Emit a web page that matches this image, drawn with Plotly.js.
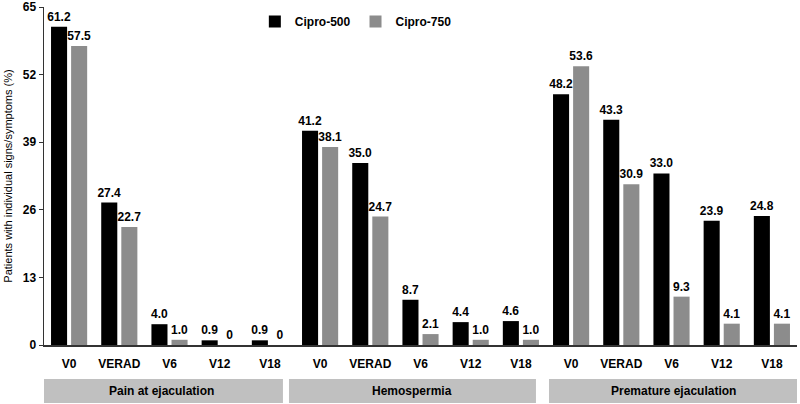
<!DOCTYPE html>
<html>
<head>
<meta charset="utf-8">
<script src="https://cdn.plot.ly/plotly-3.0.1.min.js"></script>
<style>html,body{margin:0;padding:0;background:#fff;}#chart{width:800px;height:404px;}</style>
</head>
<body>
<div id="chart"></div>
<script>
const groups = ["Pain at ejaculation", "Hemospermia", "Premature ejaculation"];
const visits = ["V0", "VERAD", "V6", "V12", "V18"];
const cipro500 = [61.2, 27.4, 4.0, 0.9, 0.9, 41.2, 35.0, 8.7, 4.4, 4.6, 48.2, 43.3, 33.0, 23.9, 24.8];
const cipro750 = [57.5, 22.7, 1.0, 0, 0, 38.1, 24.7, 2.1, 1.0, 1.0, 53.6, 30.9, 9.3, 4.1, 4.1];
const seriesNames = ["Cipro-500", "Cipro-750"];
const yTicks = [0, 13, 26, 39, 52, 65];

const xIdx = [];
const tickText = [];
groups.forEach((g, gi) => visits.forEach((v, vi) => { xIdx.push(gi * visits.length + vi); tickText.push(v); }));
const fmt = v => v === 0 ? "0" : v.toFixed(1);
const FONT = "Liberation Sans, Arial, sans-serif";

const mk = (name, vals, color, offset) => ({
  type: "bar", name: name, x: xIdx, y: vals,
  marker: {color: color, line: {width: 0}},
  width: 0.32, offset: offset,
  text: vals.map(fmt), textposition: "outside", cliponaxis: false, constraintext: "none",
  textfont: {family: FONT, size: 12, color: "#000", weight: "bold"},
  hoverinfo: "x+y"
});

const data = [mk(seriesNames[0], cipro500, "#000000", -0.36), mk(seriesNames[1], cipro750, "#8c8c8c", 0.04)];

const boxSpans = [[-0.58, 4.26], [4.38, 9.30], [9.56, 14.5]];
const shapes = boxSpans.map(s => ({type: "rect", xref: "x", yref: "paper", x0: s[0], x1: s[1], y0: -0.1716, y1: -0.1006, fillcolor: "#c0c0c0", line: {width: 0}, layer: "below"}));
const annotations = groups.map((g, i) => ({xref: "x", yref: "paper", x: (boxSpans[i][0] + boxSpans[i][1]) / 2, y: -0.136, text: g, showarrow: false, font: {family: FONT, size: 12, color: "#000", weight: "bold"}, xanchor: "center", yanchor: "middle"}));

const layout = {
  width: 800, height: 404,
  margin: {l: 44, r: 3, t: 7, b: 59},
  paper_bgcolor: "#fff", plot_bgcolor: "#fff",
  barmode: "group", bargap: 0.24, bargroupgap: 0.16,
  showlegend: true,
  legend: {orientation: "h", x: 0.28, xanchor: "left", y: 1.0, yanchor: "top", bgcolor: "rgba(0,0,0,0)", font: {family: FONT, size: 12, color: "#000", weight: "bold"}, itemwidth: 30, traceorder: "normal"},
  xaxis: {range: [-0.5, 14.5], tickvals: xIdx, ticktext: tickText, showline: true, linecolor: "#333", linewidth: 1.5, ticks: "", ticklabelstandoff: 7, showgrid: false, zeroline: false, tickfont: {family: FONT, size: 12, color: "#000", weight: "bold"}, fixedrange: true},
  yaxis: {range: [0, 65], tickvals: yTicks, ticktext: yTicks.map(String), showline: true, linecolor: "#333", linewidth: 1.5, ticks: "outside", ticklen: 4, tickcolor: "#333", ticklabeloverflow: "allow", showgrid: false, zeroline: false, tickfont: {family: FONT, size: 12, color: "#000", weight: "bold"},
    title: {text: "Patients with individual signs/symptoms (%)", font: {family: FONT, size: 11, color: "#000"}, standoff: 8}},
  shapes: shapes,
  annotations: annotations,
  font: {family: FONT}
};

Plotly.newPlot("chart", data, layout, {displayModeBar: false, staticPlot: true});
</script>
</body>
</html>
